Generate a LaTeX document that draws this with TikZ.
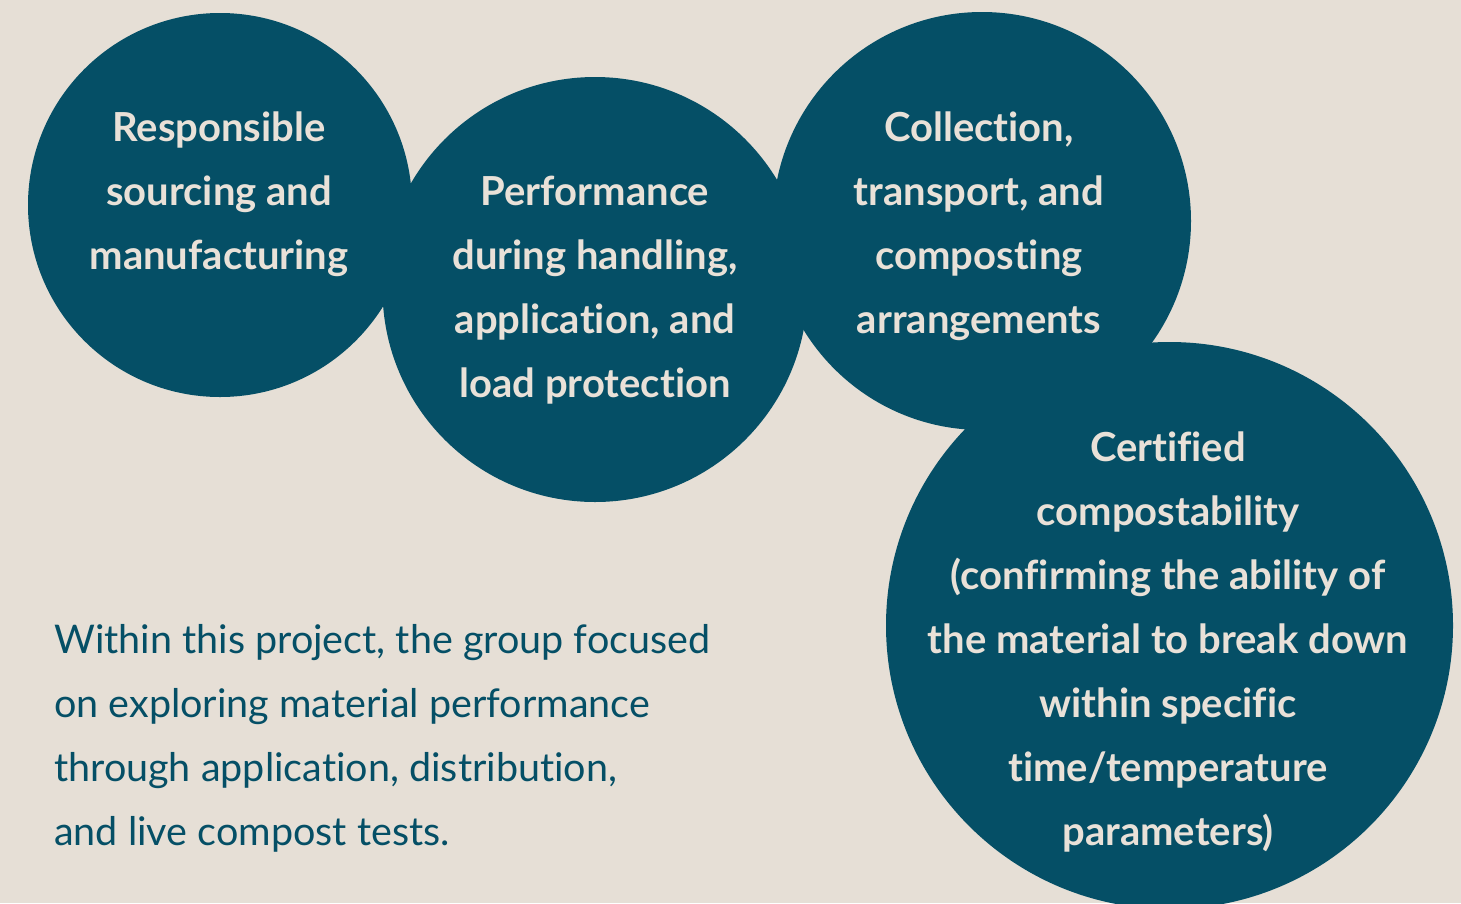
\documentclass[tikz,border=0pt]{standalone}
\usepackage{fontspec}
\setmainfont{Lato}[Ligatures=NoCommon]
\definecolor{bg}{HTML}{E6DFD6}
\definecolor{teal}{HTML}{054F66}
\definecolor{cream}{HTML}{E9E1D8}
\begin{document}
\begin{tikzpicture}[x=1pt,y=-1pt,
  blob/.style={circle,fill=teal,draw=none,inner sep=0pt},
  ctext/.style={text=cream,align=center,inner sep=0pt,font=\bfseries\fontsize{40}{64}\selectfont},
  btext/.style={text=teal,align=left,inner sep=0pt,anchor=north west,font=\fontsize{39.5}{64}\selectfont}]
\fill[bg] (0,0) rectangle (1461,903);
\useasboundingbox (0,0) rectangle (1461,903);
\begin{scope}
\clip (0,0) rectangle (1461,903);
\node[blob,minimum size=384pt] (c1) at (220,205) {};
\node[blob,minimum size=425pt] (c2) at (595,289.5) {};
\node[blob,minimum size=418pt] (c3) at (982,221) {};
\node[blob,minimum size=567pt] (c4) at (1169.5,625.5) {};
\end{scope}
\node[ctext] (t1) at (219,194) {Responsible\\sourcing and\\manufacturing};
\node[ctext] (t2) at (595,290) {Performance\\during handling,\\application, and\\load protection};
\node[ctext] (t3) at (979,226) {Collection,\\transport, and\\composting\\arrangements};
\node[ctext] (t4) at (1168,642) {Certified\\compostability\\(confirming the ability of\\the material to break down\\within specific\\time/temperature\\parameters)};
\node[btext] (bt) at (54,624) {Within this project, the group focused\\on exploring material performance\\through application, distribution,\\and live compost tests.};
\end{tikzpicture}
\end{document}
